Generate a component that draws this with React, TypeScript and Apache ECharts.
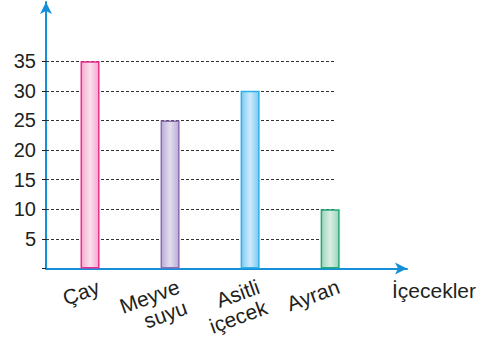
import React, { useEffect, useRef } from "react";
import * as echarts from "echarts";

const categories = ["Çay", "Meyve\nsuyu", "Asitli\niçecek", "Ayran"];
const positions = [1, 2, 3, 4];
const values = [35, 25, 30, 10];
const yTicks = [5, 10, 15, 20, 25, 30, 35];
const xAxisTitle = "İçecekler";

const borderColors = ["#ec2d8f", "#8a6cb0", "#2fb0ea", "#22a978"];
const edgeColors = ["#f4a9cc", "#b9acd6", "#7ccaf2", "#9fd3bb"];
const centerColors = ["#fbe0ee", "#e4def0", "#cdebfb", "#d8efe4"];

const FONT = "Liberation Sans, Arial, sans-serif";

export default function App() {
  const ref = useRef<HTMLDivElement>(null);
  useEffect(() => {
    if (!ref.current) return;
    const chart = echarts.init(ref.current, null, { renderer: "svg" });
    const blue = "#1590d8";
    const ink = "#231f20";
    const labelShift = 0.06;
    chart.setOption({
      animation: false,
      grid: { left: 46, right: 74, top: 2, bottom: 67, containLabel: false },
      xAxis: {
        type: "value",
        min: 0.45,
        max: 4.96,
        splitLine: { show: false },
        axisLine: {
          show: true,
          lineStyle: { color: blue, width: 2 },
          symbol: ["none", "arrow"],
          symbolSize: [9, 12],
        },
        axisTick: { show: false },
        axisLabel: {
          customValues: positions.map((p) => p + labelShift),
          formatter: (v: number) => categories[Math.round(v - labelShift) - 1] ?? "",
          rotate: 20,
          margin: 7,
          fontSize: 21,
          lineHeight: 22,
          color: ink,
          fontFamily: FONT,
          align: "right",
          verticalAlign: "top",
        },
      },
      yAxis: {
        type: "value",
        min: 0,
        max: 45,
        splitLine: { show: false },
        axisLine: {
          show: true,
          lineStyle: { color: blue, width: 2 },
          symbol: ["none", "arrow"],
          symbolSize: [9, 12],
        },
        axisTick: {
          show: true,
          customValues: [0, ...yTicks],
          length: 4,
          lineStyle: { color: ink, width: 1 },
        },
        axisLabel: {
          customValues: yTicks,
          margin: 10,
          fontSize: 20,
          color: ink,
          fontFamily: FONT,
          padding: [0, 0, 6, 0],
        },
      },
      series: [
        {
          type: "bar",
          clip: false,
          z: 3,
          barWidth: 19,
          data: values.map((v, i) => ({
            value: [positions[i], v],
            itemStyle: {
              color: new echarts.graphic.LinearGradient(0, 0, 1, 0, [
                { offset: 0, color: edgeColors[i] },
                { offset: 0.5, color: centerColors[i] },
                { offset: 1, color: edgeColors[i] },
              ]),
              borderColor: borderColors[i],
              borderWidth: 1.5,
            },
          })),
          markLine: {
            silent: true,
            z: 1,
            symbol: "none",
            label: { show: false },
            lineStyle: { color: "#333", type: [3, 2], width: 1 },
            data: yTicks.map((t) => [
              { coord: [0.45, t] },
              { coord: [4.0625, t] },
            ]),
          },
        },
      ],
      graphic: [
        {
          type: "text",
          left: 392,
          top: 280,
          style: {
            text: xAxisTitle,
            fontSize: 21,
            fill: ink,
            fontFamily: FONT,
          },
        },
      ],
    });
    return () => chart.dispose();
  }, []);
  return (
    <div
      ref={ref}
      style={{ position: "fixed", left: 0, top: 0, width: 481, height: 339, background: "#fff" }}
    />
  );
}
